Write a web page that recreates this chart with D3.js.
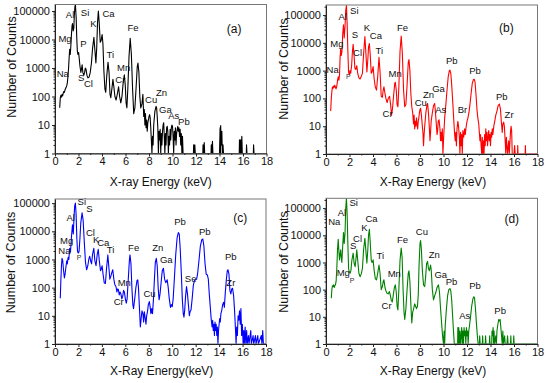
<!DOCTYPE html>
<html>
<head>
<meta charset="utf-8">
<script src="https://cdn.jsdelivr.net/npm/d3@7"></script>
<style>
  body { margin: 0; background: #fff; }
  svg { display: block; }
  text { font-family: Arial, "Liberation Sans", sans-serif; }
</style>
</head>
<body>
<div id="chart"></div>
<script>
// spectra: [energy keV, counts]; zero channels written as 1
const specA = [[0.40,40],[0.45,90],[0.50,110],[0.55,95],[0.60,120],[0.65,105],[0.70,130],[0.75,150],[0.80,140],[0.85,170],[0.90,190],[0.95,210],[1.00,240],[1.05,300],[1.10,500],[1.15,900],[1.20,2200],[1.25,4500],[1.30,3000],[1.35,6000],[1.40,15000],[1.45,30000],[1.49,36000],[1.55,20000],[1.60,25000],[1.65,80000],[1.70,150000],[1.74,160000],[1.80,60000],[1.85,12000],[1.90,4000],[1.95,3000],[2.01,3500],[2.06,2200],[2.12,1200],[2.20,700],[2.25,900],[2.31,1300],[2.37,700],[2.45,550],[2.52,700],[2.58,1000],[2.64,900],[2.72,550],[2.80,450],[2.90,480],[3.00,700],[3.10,1500],[3.20,5000],[3.31,12000],[3.40,4000],[3.48,1500],[3.55,5000],[3.62,40000],[3.69,100000],[3.76,40000],[3.85,8000],[3.92,9000],[4.01,15000],[4.08,7000],[4.16,800],[4.25,180],[4.32,140],[4.40,500],[4.51,1600],[4.60,700],[4.68,120],[4.75,90],[4.85,200],[4.93,400],[5.02,200],[5.10,100],[5.20,75],[5.30,120],[5.41,220],[5.50,100],[5.60,60],[5.70,100],[5.80,300],[5.90,580],[5.98,250],[6.05,60],[6.12,40],[6.20,200],[6.30,2500],[6.40,11000],[6.50,3000],[6.60,200],[6.70,25],[6.80,40],[6.90,200],[7.00,1100],[7.06,1500],[7.14,700],[7.22,100],[7.30,40],[7.40,55],[7.48,120],[7.55,20],[7.60,35],[7.65,10],[7.70,25],[7.75,8],[7.80,15],[7.85,6],[7.90,12],[7.95,15],[8.00,20],[8.05,23],[8.10,18],[8.15,8],[8.20,3],[8.25,1],[8.30,4],[8.35,2],[8.40,10],[8.50,30],[8.60,45],[8.65,40],[8.70,20],[8.75,8],[8.80,1],[8.85,6],[8.90,3],[8.95,7],[9.00,1],[9.05,5],[9.10,2],[9.15,6],[9.20,10],[9.25,12],[9.30,4],[9.35,1],[9.40,5],[9.45,2],[9.50,8],[9.55,9],[9.60,6],[9.65,1],[9.70,4],[9.75,2],[9.80,7],[9.85,3],[9.90,8],[9.95,10],[10.00,9],[10.05,4],[10.10,1],[10.15,6],[10.20,3],[10.25,8],[10.30,2],[10.35,5],[10.40,7],[10.45,9],[10.50,6],[10.55,8],[10.60,4],[10.65,7],[10.70,2],[10.75,5],[10.80,1],[10.85,4],[10.90,1],[11.78,1],[11.80,2],[11.84,1],[11.90,2],[11.94,1],[12.58,1],[12.60,2],[12.64,1],[12.70,2.4],[12.74,1],[13.28,1],[13.30,2],[13.34,1],[13.40,2.7],[13.44,1],[14.00,1],[14.05,8],[14.08,1],[14.10,9.5],[14.14,2],[14.20,6],[14.24,1],[14.30,2],[14.34,1],[15.68,1],[15.70,3],[15.74,1],[15.80,3],[15.84,1],[15.90,4],[15.94,1],[16.28,1],[16.30,2],[16.34,1],[16.88,1],[16.90,2],[16.94,1],[18,1]];

const specB = [[0.40,35],[0.45,100],[0.50,180],[0.55,260],[0.60,230],[0.65,280],[0.70,250],[0.75,300],[0.80,260],[0.85,220],[0.90,250],[0.95,350],[1.00,500],[1.04,600],[1.10,450],[1.15,700],[1.20,3000],[1.25,6000],[1.30,3500],[1.36,5000],[1.42,20000],[1.49,45000],[1.55,15000],[1.62,40000],[1.68,150000],[1.74,220000],[1.80,50000],[1.86,5000],[1.92,900],[1.98,700],[2.04,1000],[2.10,800],[2.18,1500],[2.25,5000],[2.31,8800],[2.38,4000],[2.46,1200],[2.54,1100],[2.62,1500],[2.70,800],[2.80,550],[2.90,500],[3.00,620],[3.10,800],[3.20,4000],[3.31,17000],[3.40,4000],[3.48,900],[3.56,2500],[3.62,7000],[3.69,9500],[3.76,4000],[3.85,800],[3.92,900],[4.01,1400],[4.10,500],[4.20,250],[4.30,200],[4.40,600],[4.51,3000],[4.60,900],[4.70,120],[4.80,110],[4.87,200],[4.93,260],[5.02,150],[5.10,100],[5.20,70],[5.30,100],[5.41,120],[5.50,60],[5.58,25],[5.65,40],[5.75,120],[5.85,350],[5.90,380],[5.98,200],[6.05,60],[6.12,50],[6.20,250],[6.30,5000],[6.40,17500],[6.50,4000],[6.60,200],[6.70,50],[6.80,60],[6.90,300],[7.00,2000],[7.06,2500],[7.14,1000],[7.22,150],[7.30,50],[7.38,30],[7.45,12],[7.50,25],[7.55,8],[7.60,15],[7.65,10],[7.70,20],[7.75,12],[7.80,8],[7.85,15],[7.90,20],[7.95,30],[8.00,40],[8.05,44],[8.12,25],[8.20,10],[8.25,6],[8.30,2],[8.35,5],[8.40,10],[8.50,30],[8.60,60],[8.65,66],[8.72,30],[8.80,8],[8.85,3],[8.90,6],[8.95,15],[9.05,30],[9.15,55],[9.25,66],[9.32,30],[9.40,10],[9.45,5],[9.50,7],[9.55,15],[9.62,17],[9.70,8],[9.75,3],[9.80,6],[9.85,3],[9.90,8],[9.95,1],[10.00,3],[10.05,8],[10.10,20],[10.20,60],[10.30,200],[10.40,600],[10.50,1000],[10.55,1050],[10.62,800],[10.70,300],[10.80,60],[10.88,15],[10.95,5],[11.00,3],[11.05,6],[11.10,2],[11.15,8],[11.22,15],[11.28,10],[11.35,4],[11.40,1],[11.45,6],[11.50,2],[11.55,5],[11.60,1],[11.65,7],[11.72,4],[11.80,8],[11.85,5],[11.92,9],[12.00,15],[12.08,20],[12.16,30],[12.25,60],[12.35,150],[12.45,350],[12.55,480],[12.61,490],[12.68,400],[12.76,150],[12.85,40],[12.92,20],[13.00,12],[13.05,6],[13.10,3],[13.15,5],[13.20,2],[13.25,1],[13.30,4],[13.35,1],[13.40,3],[13.45,1],[13.50,5],[13.55,2],[13.60,8],[13.65,3],[13.70,6],[13.75,2],[13.80,4],[13.85,7],[13.90,3],[13.95,5],[14.00,2],[14.05,6],[14.10,4],[14.15,8],[14.20,5],[14.28,10],[14.36,15],[14.45,25],[14.55,35],[14.65,55],[14.76,63],[14.85,40],[14.92,15],[15.00,6],[15.05,12],[15.12,14],[15.18,10],[15.25,3],[15.30,1],[15.35,4],[15.40,2],[15.45,1],[15.55,3],[15.60,1],[15.70,6],[15.75,10],[15.80,7],[15.85,1],[16.00,1],[16.05,2],[16.10,1],[16.30,1],[16.32,2],[16.34,1],[16.95,1],[16.97,2],[16.99,1],[18,1]];

const specC = [[0.45,42],[0.50,180],[0.55,600],[0.60,1100],[0.66,900],[0.72,450],[0.80,220],[0.86,300],[0.92,500],[1.00,900],[1.05,700],[1.12,1200],[1.18,1000],[1.25,2500],[1.32,1800],[1.40,6000],[1.49,17000],[1.56,8000],[1.62,30000],[1.68,80000],[1.74,100000],[1.80,40000],[1.86,6000],[1.92,2000],[1.98,1700],[2.05,1900],[2.12,5000],[2.20,20000],[2.31,45000],[2.40,25000],[2.50,4000],[2.60,800],[2.70,430],[2.80,600],[2.88,1000],[2.96,1300],[3.04,900],[3.12,700],[3.20,1500],[3.31,2500],[3.40,900],[3.50,600],[3.60,1500],[3.69,2300],[3.78,900],[3.88,400],[3.95,450],[4.02,600],[4.10,300],[4.20,150],[4.30,140],[4.40,500],[4.51,1450],[4.60,500],[4.68,200],[4.76,250],[4.85,350],[4.93,430],[5.02,200],[5.10,130],[5.20,110],[5.28,70],[5.35,90],[5.41,85],[5.48,55],[5.55,70],[5.62,60],[5.70,40],[5.78,50],[5.85,80],[5.92,70],[6.00,40],[6.08,28],[6.15,40],[6.25,200],[6.35,1000],[6.40,1450],[6.48,700],[6.56,100],[6.64,25],[6.70,18],[6.80,40],[6.90,100],[7.00,180],[7.06,190],[7.12,100],[7.20,20],[7.28,4],[7.35,8],[7.42,15],[7.50,12],[7.56,6],[7.62,14],[7.70,8],[7.76,5],[7.82,10],[7.90,15],[7.96,25],[8.05,32],[8.12,20],[8.18,12],[8.25,18],[8.32,12],[8.40,40],[8.48,200],[8.56,800],[8.64,1100],[8.72,600],[8.80,100],[8.88,37],[8.96,60],[9.05,150],[9.15,400],[9.25,490],[9.35,200],[9.45,150],[9.57,190],[9.66,100],[9.75,40],[9.85,20],[9.92,25],[10.00,21],[10.08,40],[10.18,200],[10.30,1500],[10.42,6000],[10.52,9000],[10.60,8000],[10.68,2500],[10.78,300],[10.86,40],[10.94,12],[11.00,9],[11.06,15],[11.14,50],[11.22,110],[11.30,60],[11.38,25],[11.46,10],[11.52,14],[11.60,16],[11.70,40],[11.80,120],[11.90,180],[12.00,190],[12.08,200],[12.16,300],[12.28,900],[12.40,3000],[12.52,5000],[12.61,5300],[12.70,3000],[12.80,700],[12.90,300],[13.00,280],[13.08,200],[13.16,60],[13.25,20],[13.32,8],[13.40,4],[13.45,7],[13.50,3],[13.55,5],[13.60,2],[13.65,6],[13.70,3],[13.75,5],[13.80,2],[13.85,4],[13.90,1],[13.95,3],[14.00,5],[14.05,8],[14.10,6],[14.15,12],[14.22,15],[14.30,25],[14.38,30],[14.45,20],[14.52,60],[14.62,200],[14.70,400],[14.76,430],[14.84,300],[14.92,80],[15.00,60],[15.08,90],[15.15,95],[15.24,50],[15.32,15],[15.40,3],[15.45,1],[15.50,4],[15.56,2],[15.62,10],[15.68,7],[15.74,15],[15.80,5],[15.86,18],[15.92,2],[15.98,5],[16.05,1],[16.10,3],[16.15,1],[16.22,4],[16.28,1],[16.35,3],[16.40,1],[16.50,2],[16.55,1],[16.70,3],[16.75,1],[16.90,2],[16.95,1],[17.10,2],[17.15,1],[17.30,2],[17.35,1],[17.60,2],[17.65,1],[17.72,3],[17.78,1],[18,1]];

const specD = [[0.45,48],[0.50,100],[0.55,140],[0.60,130],[0.65,150],[0.70,120],[0.75,140],[0.80,150],[0.86,200],[0.92,600],[0.98,3000],[1.04,7200],[1.10,2500],[1.15,1250],[1.20,2000],[1.25,2900],[1.30,1500],[1.35,1000],[1.42,4000],[1.49,12700],[1.55,5000],[1.62,12000],[1.68,100000],[1.74,230000],[1.80,60000],[1.86,5000],[1.92,600],[1.98,450],[2.05,400],[2.12,500],[2.20,1200],[2.31,2200],[2.40,900],[2.48,700],[2.56,1500],[2.62,2900],[2.70,1200],[2.80,400],[2.90,300],[3.00,380],[3.10,600],[3.20,3000],[3.31,7800],[3.40,2500],[3.48,950],[3.56,3000],[3.62,10000],[3.69,16700],[3.76,6000],[3.85,1200],[3.92,1000],[4.01,1250],[4.10,500],[4.20,250],[4.30,230],[4.40,400],[4.51,810],[4.60,400],[4.70,100],[4.80,130],[4.87,200],[4.93,230],[5.02,120],[5.10,90],[5.20,74],[5.30,70],[5.40,85],[5.48,60],[5.56,40],[5.64,35],[5.72,60],[5.82,120],[5.90,150],[5.98,80],[6.05,25],[6.12,18],[6.20,100],[6.30,1200],[6.40,3400],[6.48,1500],[6.56,100],[6.64,15],[6.70,8],[6.80,20],[6.90,100],[7.00,400],[7.06,490],[7.14,200],[7.22,30],[7.30,6],[7.38,15],[7.46,20],[7.55,30],[7.62,25],[7.70,20],[7.78,24],[7.85,60],[7.92,800],[8.00,5000],[8.05,6400],[8.12,3000],[8.20,500],[8.30,150],[8.40,130],[8.48,300],[8.56,900],[8.64,1100],[8.72,600],[8.80,500],[8.90,800],[8.96,500],[9.05,100],[9.15,42],[9.25,60],[9.35,80],[9.45,120],[9.57,150],[9.66,80],[9.75,20],[9.85,5],[9.92,2],[10.00,1],[10.05,3],[10.10,1],[10.15,5],[10.25,20],[10.35,60],[10.45,100],[10.55,110],[10.62,90],[10.70,40],[10.78,10],[10.85,3],[10.92,1],[11.20,1],[11.22,4],[11.26,1],[11.30,4],[11.35,1],[11.40,3],[11.45,1],[11.50,2],[11.55,4],[11.60,1],[11.65,3],[11.70,1],[11.75,4],[11.80,2],[11.85,3],[11.90,1],[11.95,4],[12.00,2],[12.05,3],[12.10,1],[12.15,3],[12.22,5],[12.30,10],[12.40,25],[12.50,45],[12.58,55],[12.64,50],[12.72,20],[12.80,6],[12.88,2],[12.95,1],[13.05,1],[13.08,2],[13.12,1],[13.30,1],[13.33,2],[13.36,1],[13.55,1],[13.58,2],[13.62,1],[13.90,1],[13.93,2],[13.96,1],[14.10,1],[14.13,3],[14.18,2],[14.22,4],[14.26,1],[14.30,3],[14.35,1],[14.45,2],[14.50,1],[14.55,3],[14.62,5],[14.70,8],[14.76,7],[14.82,8],[14.88,4],[14.94,2],[15.00,1],[15.05,3],[15.10,1],[15.20,2],[15.25,1],[15.40,1],[15.45,2],[15.50,1],[15.70,1],[15.73,2],[15.76,1],[15.95,1],[15.98,2],[16.01,1],[18,1]];

// peak labels: [text, energy keV, counts] (label centre / baseline)
const labelsA = [['Al',1.28,55000],['Si',2.56,68000],['Mg',0.85,8500],['P',2.42,5600],['K',3.28,28000],['Ca',4.56,63000],['Fe',6.64,20000],['Ti',4.70,2200],['Mn',5.84,760],['Na',0.66,480],['S',2.22,340],['Cl',2.85,210],['Cr',5.56,300],['Cu',8.18,59],['Zn',9.06,107],['Ga',9.40,26],['As',10.11,16],['Pb',10.97,10]];
const labelsB = [['Si',2.41,110000],['Al',1.42,66000],['Mg',0.93,6900],['S',2.46,14500],['Cl',2.69,3360],['K',3.48,27500],['Ca',4.25,13300],['Ti',4.53,4000],['Fe',6.52,27500],['Na',0.57,850],['Mn',5.89,570],['Cr',5.24,21],['Cu',8.07,53],['Zn',8.73,100],['Ga',9.58,175],['As',9.77,31],['Br',11.61,31],['Pb',10.71,1740],['Pb',12.69,760],['Pb',14.96,88],['Zr',15.58,19]];
const labelsC = [['Si',2.29,87000],['S',2.94,50000],['Al',1.34,24000],['Mg',1.0,3560],['Na',0.8,1580],['Cl',3.02,6600],['K',3.51,3800],['Ca',4.12,3000],['Ti',4.74,1760],['Fe',6.71,1920],['Zn',8.77,2080],['Ga',9.49,740],['Mn',5.91,110],['Cr',5.43,24],['Cu',8.06,46],['Pb',10.66,17000],['Pb',12.77,7500],['Pb',15.0,970],['Se',11.57,165],['Zr',15.0,115]];
const labelsD = [['Si',2.35,122000],['Al',1.36,52000],['Na',0.71,24300],['Ca',3.88,32000],['K',3.26,15000],['Cl',2.69,5900],['S',2.32,3200],['Ti',4.62,1360],['Fe',6.52,5400],['Cu',8.16,10400],['Zn',9.21,1440],['Mg',1.47,320],['Mn',5.81,290],['Cr',5.16,19],['Ga',9.77,264],['Pb',10.68,150],['Pb',12.69,104],['Pb',14.82,12.8],['As',11.81,8.1]];
// the small "P" marks
const smallLabelsB = [['P',1.90,500]];
const smallLabelsC = [['P',2.06,920]];
const smallLabelsD = [['P',2.21,180]];

const xTicks = [0, 2, 4, 6, 8, 10, 12, 14, 16, 18];
const xMinor = [1, 3, 5, 7, 9, 11, 13, 15, 17];
const yTicks = [1, 10, 100, 1000, 10000, 100000];

const w = 550, h = 383;
const svg = d3.select('#chart').append('svg').attr('width', w).attr('height', h);

const panels = [
  { spec: specA, labels: labelsA, small: [], tag: '(a)', tagPos: [15.24, 16600], color: '#000000',
    xTitle: 'X-ray Energy (keV)', left: 55, right: 266.5, top: 4.5, bottom: 153.5, ymax: 169000,
    titleX: 160.8, titleY: 186, yTitleX: 16, yTitleY: 67 },
  { spec: specB, labels: labelsB, small: smallLabelsB, tag: '(b)', tagPos: [15.35, 25000], color: '#ff0000',
    xTitle: 'X-Ray Energy (keV)', left: 326, right: 537.5, top: 5, bottom: 154, ymax: 230000,
    titleX: 433, titleY: 186, yTitleX: 287.7, yTitleY: 69 },
  { spec: specC, labels: labelsC, small: smallLabelsC, tag: '(c)', tagPos: [15.8, 20600], color: '#0000ff',
    xTitle: 'X-Ray Energy(keV)', left: 55, right: 266, top: 199, bottom: 344, ymax: 140000,
    titleX: 161.7, titleY: 375, yTitleX: 15, yTitleY: 262.5 },
  { spec: specD, labels: labelsD, small: smallLabelsD, tag: '(d)', tagPos: [15.81, 28000], color: '#008000',
    xTitle: 'X-Ray Energy (keV)', left: 326, right: 537.5, top: 198.3, bottom: 344, ymax: 230000,
    titleX: 433, titleY: 375, yTitleX: 287.7, yTitleY: 262 }
];

panels.forEach((p, i) => {
  const x = d3.scaleLinear().domain([0, 18]).range([p.left, p.right]);
  const y = d3.scaleLog().domain([1, p.ymax]).range([p.bottom, p.top]);
  const g = svg.append('g');

  g.append('clipPath').attr('id', 'clip' + i)
    .append('rect')
    .attr('x', p.left).attr('y', p.top)
    .attr('width', p.right - p.left).attr('height', p.bottom - p.top);

  // spectrum
  const line = d3.line()
    .x(d => x(d[0]))
    .y(d => y(Math.max(1, d[1])));
  g.append('path')
    .datum(p.spec)
    .attr('clip-path', `url(#clip${i})`)
    .attr('fill', 'none')
    .attr('stroke', p.color)
    .attr('stroke-width', 1.1)
    .attr('stroke-linejoin', 'round')
    .attr('d', line);

  // frame
  g.append('rect')
    .attr('x', p.left).attr('y', p.top)
    .attr('width', p.right - p.left).attr('height', p.bottom - p.top)
    .attr('fill', 'none').attr('stroke', '#777').attr('stroke-width', 1);

  // x axis
  g.append('g')
    .attr('transform', `translate(0,${p.bottom})`)
    .call(d3.axisBottom(x).tickValues(xTicks).tickSize(3).tickPadding(1).tickSizeOuter(0));
  g.append('g')
    .attr('transform', `translate(0,${p.bottom})`)
    .call(d3.axisBottom(x).tickValues(xMinor).tickSize(1.5).tickFormat('').tickSizeOuter(0))
    .select('.domain').remove();

  // y axis
  const minor = [];
  yTicks.forEach(t => { for (let k = 2; k <= 9; k++) if (t * k <= p.ymax) minor.push(t * k); });
  g.append('g')
    .attr('transform', `translate(${p.left},0)`)
    .call(d3.axisLeft(y).tickValues(yTicks).tickFormat(d3.format('d')).tickSize(3).tickPadding(2).tickSizeOuter(0));
  g.append('g')
    .attr('transform', `translate(${p.left},0)`)
    .call(d3.axisLeft(y).tickValues(minor).tickSize(1.5).tickFormat('').tickSizeOuter(0))
    .select('.domain').remove();

  g.selectAll('.tick text').attr('font-size', 11).attr('fill', '#111')
    .style('font-family', 'Arial, "Liberation Sans", sans-serif');
  g.selectAll('.tick line').attr('stroke', '#222');
  g.selectAll('.domain').attr('stroke', '#222');

  // peak labels
  g.selectAll('.peak')
    .data(p.labels)
    .enter()
    .append('text')
    .attr('class', 'peak')
    .attr('x', d => x(d[1]))
    .attr('y', d => y(d[2]))
    .attr('text-anchor', 'middle')
    .attr('font-size', 9.5)
    .attr('fill', '#111')
    .text(d => d[0]);
  g.selectAll('.small')
    .data(p.small)
    .enter()
    .append('text')
    .attr('class', 'small')
    .attr('x', d => x(d[1]))
    .attr('y', d => y(d[2]))
    .attr('text-anchor', 'middle')
    .attr('font-size', 7)
    .attr('fill', '#333')
    .text(d => d[0]);

  // panel tag
  g.append('text')
    .attr('x', x(p.tagPos[0]))
    .attr('y', y(p.tagPos[1]))
    .attr('text-anchor', 'middle')
    .attr('font-size', 12)
    .attr('fill', '#111')
    .text(p.tag);

  // axis titles
  g.append('text')
    .attr('x', p.titleX)
    .attr('y', p.titleY)
    .attr('text-anchor', 'middle')
    .attr('font-size', 12)
    .attr('fill', '#111')
    .text(p.xTitle);
  g.append('text')
    .attr('transform', `translate(${p.yTitleX},${p.yTitleY}) rotate(-90)`)
    .attr('text-anchor', 'middle')
    .attr('font-size', 12.5)
    .attr('fill', '#111')
    .text('Number of Counts');
});
</script>
</body>
</html>
